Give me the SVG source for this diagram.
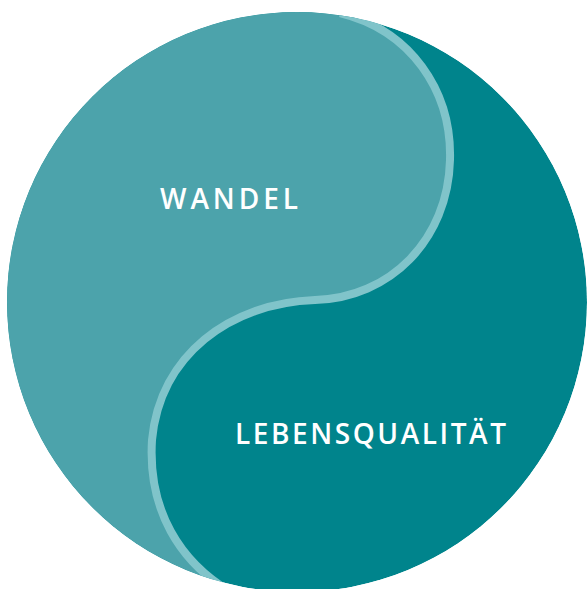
<svg xmlns="http://www.w3.org/2000/svg" width="587" height="589" viewBox="0 0 587 589">
<style>
.lbl{font-family:"Open Sans","Liberation Sans",sans-serif;font-size:28px;fill:#ffffff;font-weight:600}
</style>
<defs>
<clipPath id="c"><circle cx="297" cy="302" r="290"/></clipPath>
</defs>
<rect width="587" height="589" fill="#ffffff"/>
<g id="circle" clip-path="url(#c)">
<circle cx="297" cy="302" r="290" fill="#00848C"/>
<path id="wandel-area" d="M340 0 L340 13 C410 30 452 90 450 160 C448 240 390 298 315 300 C230 303 160 355 152 440 C148 505 175 565 245 600 L245 610 L-10 610 L-10 0 Z" fill="#4CA3AB"/>
<path id="divider" d="M340 13 C410 30 452 90 450 160 C448 240 390 298 315 300 C230 303 160 355 152 440 C148 505 175 565 245 600" fill="none" stroke="#80C4CA" stroke-width="8"/>
</g>
<g id="wandel"><text class="lbl" x="160" y="209" textLength="138" lengthAdjust="spacing">WANDEL</text></g>
<g id="lebensqualitaet"><text class="lbl" x="235" y="444" textLength="271" lengthAdjust="spacing">LEBENSQUALITÄT</text></g>
</svg>
